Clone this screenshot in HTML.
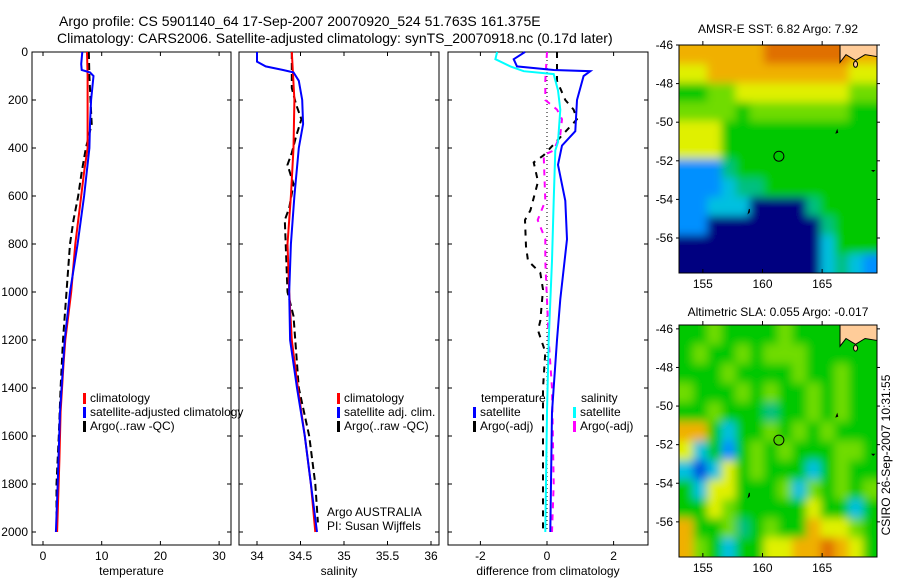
<!DOCTYPE html>
<html><head><meta charset="utf-8">
<style>
html,body{margin:0;padding:0;background:#fff;}
svg{display:block;font-family:"Liberation Sans",sans-serif;}
text{fill:#000;}
</style></head>
<body>
<svg id="fig" width="900" height="580" viewBox="0 0 900 580">
<defs>
<filter id="blur" x="-5%" y="-5%" width="110%" height="110%"><feGaussianBlur stdDeviation="4.5"/></filter>
<clipPath id="clip1"><rect x="679" y="45" width="198" height="228"/></clipPath>
<clipPath id="clip2"><rect x="679" y="325" width="198" height="232"/></clipPath>
</defs>
<text x="59" y="26" font-size="14">Argo profile: CS 5901140_64 17-Sep-2007 20070920_524 51.763S 161.375E</text>
<text x="57" y="43" font-size="14">Climatology: CARS2006. Satellite-adjusted climatology: synTS_20070918.nc (0.17d later)</text>
<g id="g1"></g>
<g id="g2"></g>
<g id="g3"></g>
<g id="m1"></g>
<g id="m2"></g>
<text x="778" y="33" font-size="12" text-anchor="middle">AMSR-E SST: 6.82 Argo: 7.92</text>
<text x="778" y="316" font-size="12" text-anchor="middle">Altimetric SLA: 0.055 Argo: -0.017</text>
<text transform="translate(890,455) rotate(-90)" font-size="12" text-anchor="middle">CSIRO 26-Sep-2007 10:31:55</text>
<text x="327" y="516" font-size="12">Argo AUSTRALIA</text>
<text x="327" y="530" font-size="12">PI: Susan Wijffels</text>
</svg>
<script>
// ---------- data ----------
const tempClimDepth=[0,100,200,400,500,600,800,1000,1200,1300,1500,1700,2000];
const tempClim=[7.5,7.6,7.6,7.6,7.0,6.5,5.5,4.8,3.8,3.5,3.0,2.8,2.4];
const tempSatDepth=[0,50,75,85,100,200,300,400,600,800,1000,1200,1500,1800,2000];
const tempSat=[6.7,6.5,6.6,8.0,8.6,8.2,8.0,7.9,7.0,5.9,4.6,3.7,2.9,2.5,2.2];
const tempArgoDepth=[0,100,200,300,400,500,600,700,800,1000,1200,1400,1600,1800,2000];
const tempArgo=[7.8,7.9,8.1,8.3,7.3,6.6,6.0,5.2,4.6,4.0,3.4,3.0,2.7,2.3,2.3];
const salClimDepth=[0,200,400,600,800,1000,1200,1400,1600,1800,2000];
const salClim=[34.4,34.43,34.42,34.39,34.35,34.37,34.40,34.47,34.55,34.62,34.67];
const salSatDepth=[0,40,60,75,85,120,200,300,400,600,800,1000,1200,1400,1600,1800,2000];
const salSat=[34.0,34.0,34.1,34.3,34.42,34.48,34.52,34.53,34.48,34.43,34.39,34.37,34.38,34.46,34.55,34.62,34.69];
const salArgoDepth=[0,150,220,280,350,420,470,550,650,700,800,1000,1100,1400,1600,1800,1960];
const salArgo=[34.4,34.4,34.45,34.51,34.45,34.4,34.35,34.42,34.37,34.32,34.33,34.35,34.42,34.48,34.6,34.67,34.7];
const dTempSatDepth=[0,30,60,75,80,100,200,330,390,470,620,780,1030,1200,1500,2000];
const dTempSat=[-0.66,-1.0,-0.9,0.2,1.3,1.1,0.9,0.85,0.45,0.33,0.55,0.6,0.4,0.3,0.15,0.1];
const dSalSatDepth=[0,30,60,80,92,160,240,375,410,620,870,1200,1500,2000];
const dSalSat=[-1.5,-1.55,-1.1,-0.7,0.2,0.33,0.4,0.33,0.25,0.2,0.15,0.05,0.0,-0.05];
const dTempArgoDepth=[0,120,200,240,280,370,430,460,540,660,700,810,870,920,990,1120,1160,1250,1400,1800,2000];
const dTempArgo=[0.3,0.3,0.55,0.8,0.9,0.3,-0.1,-0.4,-0.27,-0.5,-0.66,-0.63,-0.57,-0.2,-0.12,-0.2,-0.27,-0.05,-0.12,-0.12,-0.12];
const dSalArgoDepth=[0,120,200,240,280,345,410,430,620,700,780,870,1200,1400,1800,2000];
const dSalArgo=[0.0,-0.05,-0.05,0.3,0.45,0.4,0.2,-0.1,-0.05,-0.28,-0.05,-0.05,0.05,0.15,0.2,0.15];
const depthTicks=[0,200,400,600,800,1000,1200,1400,1600,1800,2000];
const tempTicks=[0,10,20,30];
const salTicks=[34,34.5,35,35.5,36];
const salTickLabels=["34","34.5","35","35.5","36"];
const diffTicks=[-2,0,2];
const lonTicks=[155,160,165];
const latTicks=[-46,-48,-50,-52,-54,-56];
const sstGrid=[
"88888899999988","77888888888877","55667777777766","66665666666655",
"77755555555555","77755555555555","22245555555555","22234455555555",
"22333000045555","22000000004555","00000000003555","00000000003432"];
const slaGrid=[
"55655556555555","56556566655555","55565555655655","65556565565655",
"55655545565655","88535565656555","73525656555665","31375655535655",
"53775556365656","55765555575535","85564565587765","86535577889875"];
const floatLon=161.375, floatLat=-51.763;

// ---------- helpers ----------
const NS="http://www.w3.org/2000/svg";
function mk(parent,tag,attrs){const e=document.createElementNS(NS,tag);for(const k in attrs)e.setAttribute(k,attrs[k]);parent.appendChild(e);return e;}
const yTop=52,yBot=545;
const yD=d=>52+d*0.24;
function panel(g,x0,x1,xs,ticks,labels,xlabel,showY){
  const r=mk(g,'rect',{x:x0,y:yTop,width:x1-x0,height:yBot-yTop,fill:'none',stroke:'#000','stroke-width':1});
  
  
  ticks.forEach((t,i)=>{const x=xs(t);
    mk(g,'line',{x1:x,x2:x,y1:yBot,y2:yBot-4,stroke:'#000'});mk(g,'line',{x1:x,x2:x,y1:yTop,y2:yTop+4,stroke:'#000'});
    const tx=mk(g,'text',{x:x,y:yBot+15,'font-size':12,'text-anchor':'middle'});tx.textContent=labels[i];
    
    });
  depthTicks.forEach(d=>{const y=yD(d);
    mk(g,'line',{x1:x0,x2:x0+4,y1:y,y2:y,stroke:'#000'});mk(g,'line',{x1:x1,x2:x1-4,y1:y,y2:y,stroke:'#000'});
    if(showY){const tx=mk(g,'text',{x:x0-4,y:y+4,'font-size':12,'text-anchor':'end'});tx.textContent=d;
      
      }});
  const xl=mk(g,'text',{x:(x0+x1)/2,y:yBot+30,'font-size':12,'text-anchor':'middle'});xl.textContent=xlabel;
  
  
}
function line(g,xs,vals,depths,color,dash,w,name){
  const pts=vals.map((v,i)=>xs(v).toFixed(1)+','+yD(depths[i]).toFixed(1)).join(' ');
  const p=mk(g,'polyline',{points:pts,fill:'none',stroke:color,'stroke-width':w});
  if(dash)p.setAttribute('stroke-dasharray',dash);
  
  
}
function legend(g,x,y,color,label){
  mk(g,'rect',{x:x,y:y-9,width:3,height:11,fill:color});
  const t=mk(g,'text',{x:x+7,y:y,'font-size':12});t.textContent=label;
  
  
}
// ---------- panel 1 ----------
const g1=document.getElementById('g1');
const xT=v=>43+v*5.87;
panel(g1,32,231,xT,tempTicks,tempTicks.map(String),'temperature',true);
line(g1,xT,tempArgo,tempArgoDepth,'#000','7,4',2,'temp-argo-line');
line(g1,xT,tempClim,tempClimDepth,'#f00',null,2,'temp-climatology-line');
line(g1,xT,tempSat,tempSatDepth,'#00f',null,2,'temp-satellite-line');
legend(g1,83,402,'#f00','climatology');
legend(g1,83,416,'#00f','satellite-adjusted climatology');
legend(g1,83,430,'#000','Argo(..raw -QC)');
// ---------- panel 2 ----------
const g2=document.getElementById('g2');
const xS=v=>257+(v-34)*87;
panel(g2,239,439,xS,salTicks,salTickLabels,'salinity',false);
line(g2,xS,salArgo,salArgoDepth,'#000','7,4',2,'sal-argo-line');
line(g2,xS,salClim,salClimDepth,'#f00',null,2,'sal-climatology-line');
line(g2,xS,salSat,salSatDepth,'#00f',null,2,'sal-satellite-line');
legend(g2,337,402,'#f00','climatology');
legend(g2,337,416,'#00f','satellite adj. clim.');
legend(g2,337,430,'#000','Argo(..raw -QC)');
// ---------- panel 3 ----------
const g3=document.getElementById('g3');
const xDf=v=>547+v*33.3;
panel(g3,448,648,xDf,diffTicks,diffTicks.map(String),'difference from climatology',false);
mk(g3,'line',{x1:xDf(0),x2:xDf(0),y1:yTop,y2:yD(2000),stroke:'#000','stroke-dasharray':'1,3'});
line(g3,xDf,dTempArgo,dTempArgoDepth,'#000','6,6',2,'diff-temp-argo-line');
line(g3,xDf,dSalArgo,dSalArgoDepth,'#f0f','6,6',2,'diff-sal-argo-line');
line(g3,xDf,dTempSat,dTempSatDepth,'#00f',null,2,'diff-temp-satellite-line');
line(g3,xDf,dSalSat,dSalSatDepth,'#0ff',null,2,'diff-sal-satellite-line');
const tt=mk(g3,'text',{x:481,y:402,'font-size':12});tt.textContent='temperature';


const st=mk(g3,'text',{x:581,y:402,'font-size':12});st.textContent='salinity';


legend(g3,473,416,'#00f','satellite');
legend(g3,473,430,'#000','Argo(-adj)');
legend(g3,573,416,'#0ff','satellite');
legend(g3,573,430,'#f0f','Argo(-adj)');
// ---------- maps ----------
const cmap=["#000080","#0050e0","#0090ff","#00c0e0","#00c080","#00c800","#70dc00","#e0f000","#f0b000","#e07000"];
function map(g,top,bottom,latTop,grid,clipId){
  const x0=679,x1=877,lonL=153,lonR=169.6;
  const xL=lon=>x0+(lon-lonL)/(lonR-lonL)*(x1-x0);
  const yL=lat=>top+(latTop-lat)*19.3;
  const latBot=latTop-(bottom-top)/19.3;
  const rows=grid.length,cols=grid[0].length;
  const cw=(x1-x0)/cols,ch=(bottom-top)/rows;
  const clipG=mk(g,'g',{'clip-path':'url(#'+clipId+')'});
  const cells=mk(clipG,'g',{filter:'url(#blur)'});
  grid.forEach((row,r)=>{[...row].forEach((c,k)=>{
    const ex=(k===0?-10:0), ey=(r===0?-10:0);
    const ew=(k===cols-1?10:0)-ex, eh=(r===rows-1?10:0)-ey;
    const cell=mk(cells,'rect',{x:(x0+k*cw+ex).toFixed(2),y:(top+r*ch+ey).toFixed(2),width:(cw+0.6+ew).toFixed(2),height:(ch+0.6+eh).toFixed(2),fill:cmap[+c]});
    
    });});
  const land=mk(g,'path',{d:`M${xL(166.5)},${top} L${x1},${top} L${x1},${yL(-46.6)} L${xL(168.6)},${yL(-46.5)} L${xL(167.8)},${yL(-46.8)} L${xL(167)},${yL(-46.5)} L${xL(166.5)},${yL(-46.9)} Z`,fill:'#ffcc99',stroke:'#000','stroke-width':1});
  
  
  mk(g,'ellipse',{cx:xL(167.8),cy:yL(-47.0),rx:2,ry:3,fill:'#ffcc99',stroke:'#000'});
  mk(g,'path',{d:`M${xL(166.1)},${yL(-50.6)} l2,-5 l1,4 z`,fill:'#000'});
  mk(g,'path',{d:`M${xL(169.2)},${yL(-52.5)} l2,0 l-1,1 z`,fill:'#000',stroke:'#000'});
  mk(g,'path',{d:`M${xL(158.9)},${yL(-54.5)} l-1,4 l1,-1 z`,fill:'#000',stroke:'#000'});
  const c=mk(g,'circle',{cx:xL(floatLon),cy:yL(floatLat),r:5,fill:'none',stroke:'#000','stroke-width':1});
  
  
  const f=mk(g,'rect',{x:x0,y:top,width:x1-x0,height:bottom-top,fill:'none',stroke:'#000'});
  
  
  lonTicks.forEach(l=>{const x=xL(l);
    mk(g,'line',{x1:x,x2:x,y1:top,y2:top-4,stroke:'#000'});mk(g,'line',{x1:x,x2:x,y1:bottom,y2:bottom-4,stroke:'#000'});
    const t=mk(g,'text',{x:x,y:bottom+15,'font-size':12,'text-anchor':'middle'});t.textContent=l;
    
    });
  latTicks.forEach(l=>{const y=yL(l);if(l<latBot)return;
    mk(g,'line',{x1:x0,x2:x0-3,y1:y,y2:y,stroke:'#000'});mk(g,'line',{x1:x1,x2:x1+3,y1:y,y2:y,stroke:'#000'});
    const t=mk(g,'text',{x:x0-6,y:y+4,'font-size':12,'text-anchor':'end'});t.textContent=l;
    
    });
}
map(document.getElementById('m1'),45,273,-46,sstGrid,'clip1');
map(document.getElementById('m2'),325,557,-45.8,slaGrid,'clip2');
</script>
</body></html>
